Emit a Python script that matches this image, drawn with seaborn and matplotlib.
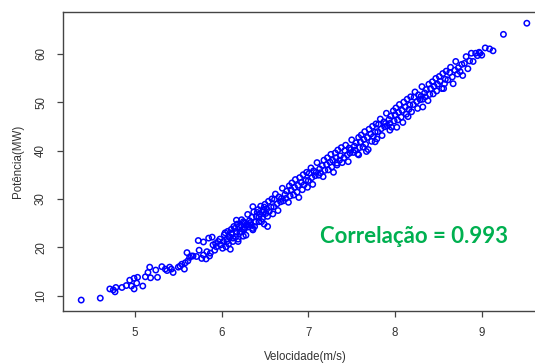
import matplotlib
matplotlib.use("Agg")
import matplotlib.pyplot as plt
import pandas as pd
import seaborn as sns

# ---- data ----
speed_low = [4.38, 4.60, 4.71, 4.75, 4.77, 4.78, 4.85, 4.90, 4.94, 4.96, 4.99, 4.99,
             5.02, 5.03, 5.09, 5.12, 5.15, 5.17, 5.18, 5.24, 5.26, 5.31, 5.35, 5.37,
             5.40, 5.42, 5.44, 5.50, 5.52, 5.54, 5.57, 5.58, 5.60, 5.61, 5.63, 5.65,
             5.67, 5.71, 5.73, 5.74, 5.77, 5.79, 5.79, 5.82, 5.83, 5.85, 5.86, 5.87,
             5.89, 5.90, 5.92, 5.93, 5.94, 5.96, 5.98, 5.99, 6.01, 6.04, 6.06, 6.09,
             6.11, 6.13, 6.15, 6.17, 6.19, 6.20, 6.23, 6.25, 6.26, 6.28, 6.31, 6.33,
             6.36, 6.36, 6.38, 6.41, 6.43, 6.46, 6.48, 6.49, 6.51, 6.53]
power_low = [9.1, 9.5, 11.4, 11.2, 10.8, 11.7, 11.7, 12.1, 13.2, 12.0, 11.4, 13.6,
             12.6, 13.8, 12.0, 13.9, 14.8, 15.9, 13.7, 15.3, 13.8, 16.0, 15.5, 15.2,
             15.9, 15.5, 14.8, 15.9, 16.1, 16.5, 15.5, 16.8, 18.9, 17.2, 17.9, 18.2,
             18.2, 18.1, 21.4, 19.4, 17.7, 21.1, 18.4, 17.6, 19.1, 21.9, 18.2, 18.8,
             22.1, 20.5, 19.4, 20.8, 20.1, 21.2, 21.7, 20.5, 19.8, 23.0, 21.2, 22.2,
             22.9, 21.9, 23.9, 25.6, 21.2, 24.3, 23.2, 25.3, 23.7, 22.5, 24.6, 25.1,
             28.4, 23.6, 24.3, 27.2, 26.3, 25.3, 27.7, 28.3, 27.0, 24.3]

speed_mid = [6.02, 6.03, 6.05, 6.06, 6.07, 6.08, 6.09, 6.10,
             6.11, 6.12, 6.13, 6.14, 6.16, 6.17, 6.18, 6.19,
             6.21, 6.22, 6.23, 6.24, 6.25, 6.26, 6.27, 6.29,
             6.30, 6.31, 6.32, 6.34, 6.35, 6.36, 6.37, 6.39,
             6.40, 6.42, 6.43, 6.44, 6.45, 6.47, 6.48, 6.49,
             6.50, 6.52, 6.53, 6.54, 6.55, 6.57, 6.58, 6.59,
             6.60, 6.61, 6.62, 6.64, 6.65, 6.66, 6.68, 6.69,
             6.70, 6.71, 6.73, 6.74, 6.75, 6.77, 6.78, 6.79,
             6.80, 6.81, 6.83, 6.84, 6.85, 6.87, 6.88, 6.89,
             6.90, 6.92, 6.93, 6.94, 6.95, 6.97, 6.98, 6.99,
             7.00, 7.01, 7.03, 7.04, 7.05, 7.06, 7.08, 7.09,
             7.10, 7.12, 7.13, 7.14, 7.16, 7.17, 7.18, 7.19,
             7.21, 7.22, 7.23, 7.25, 7.26, 7.27, 7.28, 7.29,
             7.31, 7.32, 7.33, 7.34, 7.36, 7.37, 7.38, 7.39,
             7.41, 7.42, 7.43, 7.45, 7.46, 7.47, 7.48, 7.49,
             7.50, 7.52, 7.53, 7.54, 7.55, 7.57, 7.58, 7.59,
             7.60, 7.61, 7.63, 7.64, 7.65, 7.66, 7.68, 7.69,
             7.70, 7.72, 7.73, 7.74, 7.75, 7.77, 7.78, 7.79,
             7.80, 7.81, 7.83, 7.84, 7.85, 7.87, 7.88, 7.89,
             7.90, 7.91, 7.93, 7.94, 7.95, 7.96, 7.98, 7.99,
             8.00, 8.01, 8.03, 8.04, 8.05, 8.07, 8.08, 8.09,
             8.10, 8.12, 8.13, 8.14, 8.16, 8.17, 8.18, 8.19,
             8.21, 8.22, 8.23, 8.25, 8.26, 8.27, 8.29, 8.30,
             8.31, 8.32, 8.34, 8.35, 8.36, 8.38, 8.39, 8.40,
             8.41, 8.43, 8.44, 8.45, 8.47, 8.48, 8.49,
             8.51, 8.52, 8.54, 8.55, 8.57, 8.58, 8.59,
             8.61, 8.63, 8.64, 8.66, 8.67, 8.69,
             8.70, 8.72, 8.73, 8.75, 8.77, 8.78,
             8.80, 8.82, 8.84, 8.86, 8.88,
             8.90, 8.95, 8.97]
power_mid = [21.2, 22.6, 20.1, 21.7, 23.3, 20.7, 22.1, 19.6,
             23.7, 22.7, 21.2, 24.3, 22.2, 23.1, 24.8, 21.7,
             23.1, 24.6, 25.7, 23.7, 22.3, 25.1, 24.1, 24.8,
             26.8, 24.2, 25.5, 24.7, 26.2, 23.9, 27.3, 25.2,
             26.4, 27.8, 25.3, 26.9, 28.5, 25.9, 27.3, 24.8,
             28.9, 27.9, 26.4, 29.5, 27.4, 28.3, 30.0, 26.9,
             28.4, 29.9, 31.0, 29.0, 27.6, 30.4, 29.4, 30.1,
             32.2, 29.6, 30.9, 30.1, 31.6, 29.3, 32.7, 30.6,
             31.9, 33.3, 30.8, 32.4, 34.0, 31.4, 32.8, 30.3,
             34.4, 33.4, 31.9, 35.0, 32.9, 33.8, 35.5, 32.4,
             33.8, 35.3, 36.4, 34.4, 33.0, 35.8, 34.8, 35.5,
             37.5, 34.9, 36.2, 35.4, 36.9, 34.6, 38.0, 35.9,
             37.1, 38.5, 36.0, 37.6, 39.2, 36.6, 38.0, 35.5,
             39.5, 38.5, 37.0, 40.1, 38.0, 38.9, 40.6, 37.5,
             38.5, 40.0, 41.1, 39.1, 37.7, 40.5, 39.5, 40.2,
             42.2, 39.6, 40.9, 40.1, 41.6, 39.3, 42.7, 40.6,
             41.8, 43.2, 40.7, 42.3, 43.9, 41.3, 42.7, 40.2,
             44.4, 43.4, 41.9, 45.0, 42.9, 43.8, 45.5, 42.4,
             43.9, 45.4, 46.5, 44.5, 43.1, 45.9, 44.9, 45.6,
             47.7, 45.1, 46.4, 45.6, 47.1, 44.8, 48.2, 46.1,
             47.4, 48.8, 46.3, 47.9, 49.5, 46.9, 48.3, 45.8,
             50.0, 49.0, 47.5, 50.6, 48.5, 49.4, 51.1, 48.0,
             49.5, 51.0, 52.1, 50.1, 48.7, 51.5, 50.5, 51.2,
             53.2, 50.6, 51.9, 51.1, 52.6, 50.3, 53.7, 51.6,
             52.8, 54.2, 51.7, 53.3, 54.9, 52.3, 53.7,
             55.3, 54.3, 52.8, 55.9, 53.8, 54.7, 56.4,
             54.6, 56.1, 57.2, 55.2, 53.8, 56.6,
             58.4, 55.8, 57.1, 56.3, 57.8, 55.5,
             58.0, 59.4, 56.9, 58.5, 60.1,
             58.4, 59.6, 60.3]

speed_high = [7.58, 7.67, 7.94, 8.02, 8.56, 8.32, 8.15, 7.33, 7.77,
              8.93, 8.98, 9.00, 9.04, 9.09, 9.13, 9.25, 9.52]
power_high = [39.1, 39.8, 44.2, 44.8, 52.8, 49.0, 47.0, 37.4, 41.8,
              60.1, 60.1, 59.7, 61.2, 61.0, 60.6, 64.0, 66.3]

x_ticks = [5, 6, 7, 8, 9]
y_ticks = [10, 20, 30, 40, 50, 60]
x_label = "Velocidade(m/s)"
y_label = "Potência(MW)"
annotation = "Correlação = 0.993"

df = pd.DataFrame({
    "speed": speed_low + speed_mid + speed_high,
    "power": power_low + power_mid + power_high,
})

sns.set_style("white")
plt.rcParams["font.family"] = ["Liberation Sans", "DejaVu Sans"]

W, H = 535, 363
fig = plt.figure(figsize=(W / 100, H / 100), dpi=100)
fig.patch.set_facecolor("white")
ax = fig.add_axes([63 / W, 52 / H, 485 / W, 299 / H])

sns.scatterplot(data=df, x="speed", y="power", ax=ax, marker="o", s=15,
                facecolors="none", edgecolor="#0000ff", linewidth=1.1)

ax.set_xlim(4.170, 9.764)
ax.set_ylim(6.84, 68.62)
ax.set_xticks(x_ticks)
ax.set_xticklabels([str(t) for t in x_ticks])
ax.set_yticks(y_ticks)
ax.set_yticklabels([str(t) for t in y_ticks], rotation=90, va="center")
ax.set_xlabel("")
ax.set_ylabel("")

for side in ["left", "bottom", "top", "right"]:
    ax.spines[side].set_color("#444444")
    ax.spines[side].set_linewidth(1.0)

ax.tick_params(axis="both", direction="out", length=4.5, width=0.9,
               color="#444444", labelsize=8.3, labelcolor="#333333", pad=7.0)
ax.tick_params(axis="x", bottom=True)
ax.tick_params(axis="y", left=True)

fig.text(305 / W, 1 - 357 / H, x_label, ha="center", va="center",
         fontsize=8.3, color="#333333")
fig.text(18 / W, 1 - 161 / H, y_label, ha="center", va="center",
         rotation=90, fontsize=8.3, color="#333333")

ax.text(8.22, 20.8, annotation, ha="center", va="baseline",
        fontfamily=["Lato", "DejaVu Sans"], fontweight="bold",
        fontsize=16, color="#00b050")

fig.savefig("out.png", dpi=100)
